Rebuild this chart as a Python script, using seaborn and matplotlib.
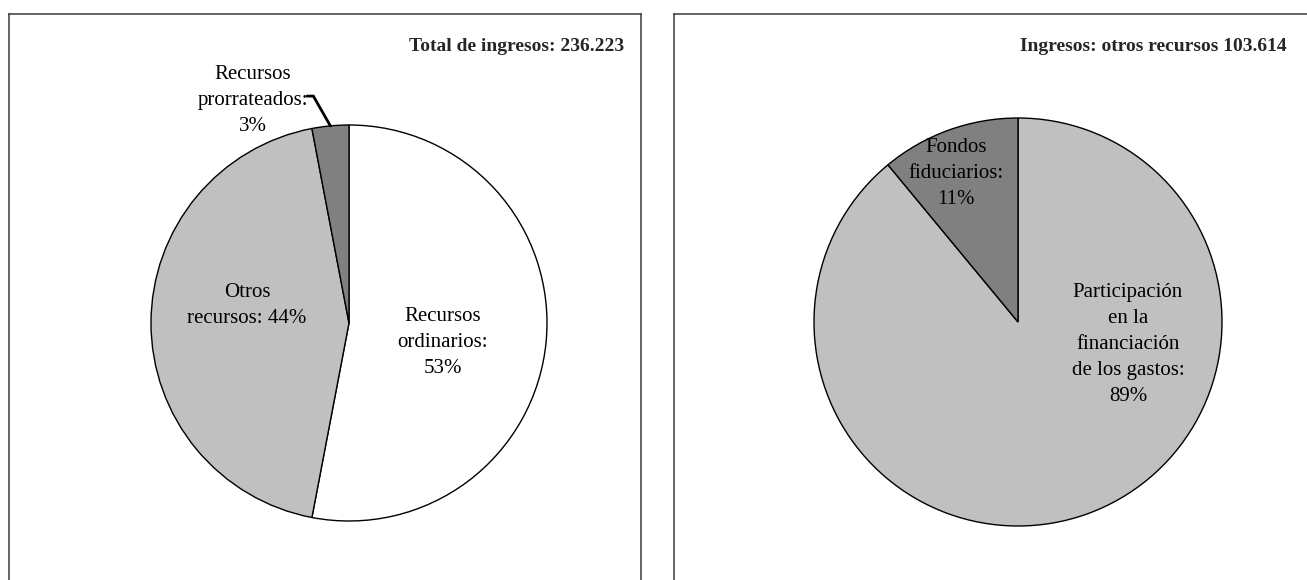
import matplotlib
matplotlib.use("Agg")
import matplotlib.pyplot as plt
import numpy as np
import seaborn as sns

# Ingresos totales por fuente
total_labels = ["Recursos\nordinarios:", "Otros\nrecursos:", "Recursos\nprorrateados:"]
total_pct = [53, 44, 3]
total_colors = ["#FFFFFF", "#C0C0C0", "#808080"]
total_title = "Total de ingresos: 236.223"

# Desglose de otros recursos
otros_labels = ["Participación\nen la\nfinanciación\nde los gastos:", "Fondos\nfiduciarios:"]
otros_pct = [89, 11]
otros_colors = ["#C0C0C0", "#808080"]
otros_title = "Ingresos: otros recursos 103.614"

sns.set_theme(style="white")
plt.rcParams["font.family"] = ["Liberation Serif", "DejaVu Serif"]

W, H = 1307, 580
fig = plt.figure(figsize=(W / 100, H / 100), dpi=100)
fig.patch.set_facecolor("white")


def px_axes(x0, y0, x1, y1):
    """Axes from a pixel box measured from the top-left corner."""
    return fig.add_axes([x0 / W, 1 - y1 / H, (x1 - x0) / W, (y1 - y0) / H])


def frame(x0, x1):
    ax = px_axes(x0, 14, x1, 620)
    ax.set_xticks([])
    ax.set_yticks([])
    for s in ax.spines.values():
        s.set_visible(True)
        s.set_color("#3a3a3a")
        s.set_linewidth(1.1)
    ax.set_facecolor("white")
    return ax


def pie_axes(cx, cy, r):
    ax = px_axes(cx - r, cy - r, cx + r, cy + r)
    ax.set_facecolor("none")
    ax.set_axis_off()
    return ax


# Panel frames (open at the bottom edge of the figure)
frame(9, 641)
frame(674, 1308)

txt = dict(fontsize=15, ha="center", va="center", linespacing=1.5, color="black")
wedge_style = dict(edgecolor="black", linewidth=1.0)

# Left pie: total income
ax1 = pie_axes(349, 323, 198)
w1, _ = ax1.pie(total_pct, colors=total_colors, startangle=90, counterclock=False,
                radius=1, wedgeprops=wedge_style)
ax1.set_xlim(-1, 1)
ax1.set_ylim(-1, 1)
ax1.set_aspect("equal")

seps1 = ["\n", " ", "\n"]
pos1 = [(0.475, -0.096), (-0.515, 0.086), (-0.485, 1.126)]
for lab, sep, p, (x, y) in zip(total_labels, seps1, total_pct, pos1):
    ax1.text(x, y, f"{lab}{sep}{p}%", **txt)

# Leader line from the small wedge label to its outer edge
wp = w1[2]
mid = np.deg2rad((wp.theta1 + wp.theta2) / 2)
ax1.plot([-0.212, -0.180, np.cos(mid)], [1.146, 1.146, np.sin(mid)],
         color="black", lw=2.0, clip_on=False, solid_joinstyle="miter")

fig.text(624 / W, 1 - 51 / H, total_title, ha="right", va="baseline",
         fontsize=14, fontweight="bold")

# Right pie: other resources breakdown
ax2 = pie_axes(1018, 322, 204)
ax2.pie(otros_pct, colors=otros_colors, startangle=90, counterclock=False,
        radius=1, wedgeprops=wedge_style)
ax2.set_xlim(-1, 1)
ax2.set_ylim(-1, 1)
ax2.set_aspect("equal")

pos2 = [(0.539, -0.108), (-0.304, 0.730)]
for lab, p, (x, y) in zip(otros_labels, otros_pct, pos2):
    ax2.text(x, y, f"{lab}\n{p}%", **txt)

fig.text(1287 / W, 1 - 51 / H, otros_title, ha="right", va="baseline",
         fontsize=14, fontweight="bold")

fig.savefig("out.png", dpi=100, facecolor="white")
